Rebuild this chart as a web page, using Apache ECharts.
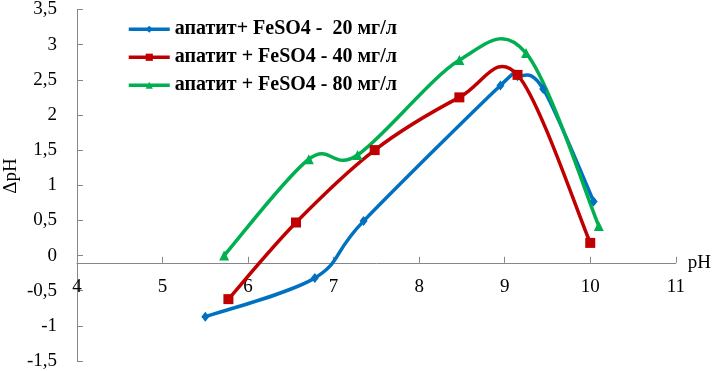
<!DOCTYPE html>
<html>
<head>
<meta charset="utf-8">
<script src="https://cdn.jsdelivr.net/npm/echarts@6/dist/echarts.min.js"></script>
<style>
  html, body { margin: 0; padding: 0; background: #fff; }
  #chart { width: 714px; height: 371px; }
</style>
</head>
<body>
<div id="chart"></div>
<script>
// data (pH, ΔpH)
const seriesNames = [
  'апатит+ FeSO4 -  20 мг/л',
  'апатит + FeSO4 - 40 мг/л',
  'апатит + FeSO4 - 80 мг/л'
]
const data20 = [[5.5, -0.87], [6.78, -0.32], [7.35, 0.49], [8.95, 2.42], [9.15, 2.55], [9.45, 2.37], [10.04, 0.77]]
const data40 = [[5.77, -0.62], [6.56, 0.47], [7.48, 1.5], [8.47, 2.25], [9.15, 2.57], [10.0, 0.18]]
const data80 = [[5.72, 0.0], [6.71, 1.37], [7.28, 1.43], [8.47, 2.78], [9.25, 2.88], [10.1, 0.42]]
const seriesColors = ['#0070C0', '#C00000', '#00B050']
const seriesSymbols = ['diamond', 'rect', 'triangle']
const symbolSizes = [[8, 10], 10, 10]

const font = 'Liberation Serif'
const axisColor = '#868686'
const allData = [data20, data40, data80]

const chart = echarts.init(document.getElementById('chart'))

// Excel-like smoothed line: Catmull-Rom segments (1/6 tangents), through the axes' scales
function curveSeries(d, color) {
  return {
    type: 'custom',
    data: d,
    encode: { x: 0, y: 1 },
    silent: true,
    renderItem: (params, api) => {
      const i = params.dataIndex
      const n = d.length
      if (i >= n - 1) return null
      const p0 = api.coord(d[Math.max(i - 1, 0)])
      const p1 = api.coord(d[i])
      const p2 = api.coord(d[i + 1])
      const p3 = api.coord(d[Math.min(i + 2, n - 1)])
      return {
        type: 'bezierCurve',
        shape: {
          x1: p1[0], y1: p1[1],
          cpx1: p1[0] + (p2[0] - p0[0]) / 6, cpy1: p1[1] + (p2[1] - p0[1]) / 6,
          cpx2: p2[0] - (p3[0] - p1[0]) / 6, cpy2: p2[1] - (p3[1] - p1[1]) / 6,
          x2: p2[0], y2: p2[1]
        },
        style: { stroke: color, lineWidth: 3.5, fill: null, lineCap: 'round' }
      }
    }
  }
}

chart.setOption({
  animation: false,
  grid: { left: 77, right: 38, top: 9, bottom: 10 },
  legend: {
    left: 127,
    top: 19,
    padding: 0,
    orient: 'vertical',
    itemGap: 7.5,
    itemWidth: 41,
    itemHeight: 9,
    textStyle: { fontFamily: font, fontSize: 20, fontWeight: 'bold', color: '#000', lineHeight: 20.5 },
    data: seriesNames.map((nm, i) => ({
      name: nm,
      lineStyle: { color: seriesColors[i], width: 3.5, opacity: 1 }
    }))
  },
  graphic: [{
    type: 'text',
    x: 11,
    y: 176,
    rotation: Math.PI / 2,
    style: { text: 'ΔpH', font: '19px "Liberation Serif"', fill: '#000', align: 'center', verticalAlign: 'middle' }
  }],
  xAxis: {
    type: 'value',
    min: 4,
    max: 11,
    interval: 1,
    name: 'pH',
    nameGap: 12,
    nameTextStyle: { fontFamily: font, fontSize: 19, color: '#000', padding: [0, 0, 4, 0] },
    axisLine: { onZero: false, lineStyle: { color: axisColor, width: 1 } },
    axisTick: { show: true, inside: true, length: 6, lineStyle: { color: axisColor } },
    axisLabel: { fontFamily: font, fontSize: 19, color: '#000', margin: 15 },
    splitLine: { show: false }
  },
  yAxis: {
    type: 'value',
    min: -1.5,
    max: 3.5,
    interval: 0.5,
    axisLine: { show: true, onZero: false, lineStyle: { color: axisColor, width: 1 } },
    axisTick: { show: true, inside: true, length: 6, lineStyle: { color: axisColor } },
    axisLabel: {
      fontFamily: font, fontSize: 19, color: '#000', margin: 20,
      formatter: (v) => String(v).replace('.', ',')
    },
    splitLine: { show: false }
  },
  series: [
    ...allData.map((d, i) => curveSeries(d, seriesColors[i])),
    ...allData.map((d, i) => ({
      name: seriesNames[i],
      type: 'line',
      data: d,
      symbol: seriesSymbols[i],
      symbolSize: symbolSizes[i],
      showAllSymbol: true,
      lineStyle: { color: seriesColors[i], width: 3.5, opacity: 0 },
      itemStyle: { color: seriesColors[i] }
    }))
  ]
})

// put the x axis on the zero line of the y axis
const yZero = chart.convertToPixel({ yAxisIndex: 0 }, 0)
const yBottom = chart.convertToPixel({ yAxisIndex: 0 }, -1.5)
chart.setOption({ xAxis: { offset: -(yBottom - yZero) } })
</script>
</body>
</html>
